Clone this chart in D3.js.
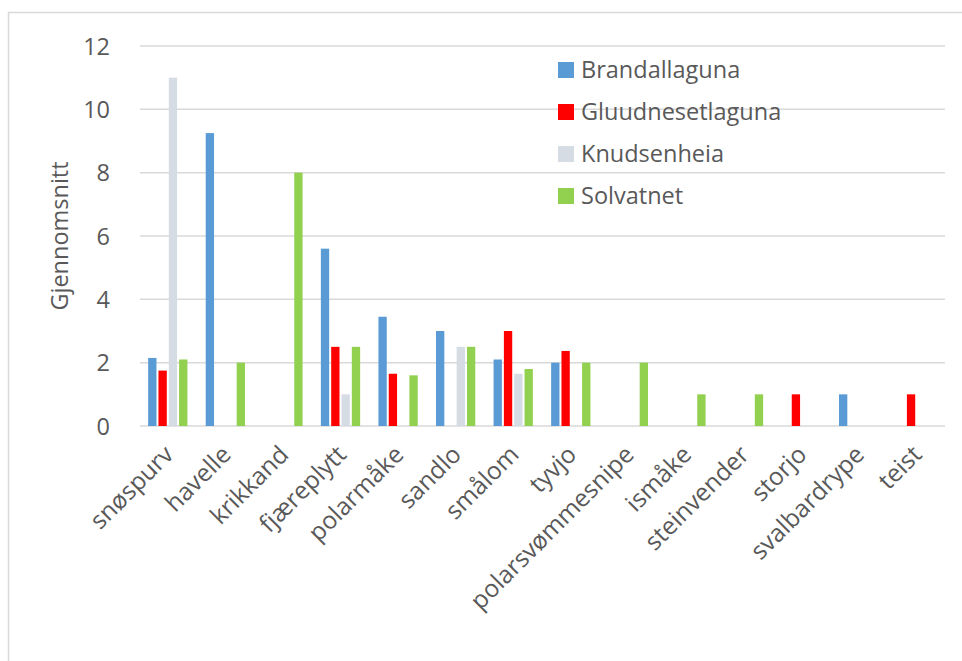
<!DOCTYPE html>
<html>
<head>
<meta charset="utf-8">
<script src="https://cdn.jsdelivr.net/npm/d3@7"></script>
<style>
  html, body { margin: 0; padding: 0; background: #fff; }
  svg text { font-family: "Open Sans", sans-serif; fill: #595959; }
</style>
</head>
<body>
<svg id="chart" width="962" height="661"></svg>
<script>
// Bird species (categories)
const species = ["snøspurv", "havelle", "krikkand", "fjæreplytt", "polarmåke", "sandlo",
  "smålom", "tyvjo", "polarsvømmesnipe", "ismåke", "steinvender", "storjo", "svalbardrype", "teist"];
// Sites (series)
const sites = ["Brandallaguna", "Gluudnesetlaguna", "Knudsenheia", "Solvatnet"];
// Mean counts per site, one entry per species (null = no bar)
const brandallaguna    = [2.15, 9.25, null, 5.6, 3.45, 3.0, 2.1, 2.0, null, null, null, null, 1.0, null];
const gluudnesetlaguna = [1.75, null, null, 2.5, 1.65, null, 3.0, 2.37, null, null, null, 1.0, null, 1.0];
const knudsenheia      = [11.0, null, null, 1.0, null, 2.5, 1.65, null, null, null, null, null, null, null];
const solvatnet        = [2.1, 2.0, 8.0, 2.5, 1.6, 2.5, 1.8, 2.0, 2.0, 1.0, 1.0, null, null, null];
const yTicks = [0, 2, 4, 6, 8, 10, 12];
const yTitle = "Gjennomsnitt";

const seriesValues = [brandallaguna, gluudnesetlaguna, knudsenheia, solvatnet];
const colors = ["#5B9BD5", "#FF0000", "#D6DCE4", "#92D050"];
const fontSize = 23.5;
const xLabelSize = 24.5;

const svg = d3.select("#chart");

// outer chart border
svg.append("rect")
  .attr("x", 8.5).attr("y", 12.5).attr("width", 1000).attr("height", 700)
  .attr("fill", "none").attr("stroke", "#D9D9D9").attr("stroke-width", 1.5);

const plot = { left: 139, right: 945, top: 46, bottom: 426 };

const x0 = d3.scaleBand().domain(species).range([plot.left, plot.right])
  .paddingInner(0.283).paddingOuter(0.1415);
const x1 = d3.scaleBand().domain(sites).range([0, x0.bandwidth()]);
const y = d3.scaleLinear().domain([0, 12]).range([plot.bottom, plot.top]);

// horizontal gridlines
svg.append("g")
  .selectAll("line").data(yTicks).join("line")
  .attr("x1", 140).attr("x2", 945)
  .attr("y1", d => y(d)).attr("y2", d => y(d))
  .attr("stroke", "#D9D9D9").attr("stroke-width", 1.5);

// y axis labels
const yAxis = d3.axisLeft(y).tickValues(yTicks).tickSize(0).tickPadding(0);
const yg = svg.append("g").attr("transform", "translate(110,0)").call(yAxis);
yg.select(".domain").remove();
yg.selectAll("text").attr("font-size", fontSize).attr("font-family", "Open Sans")
  .attr("fill", "#595959").attr("dy", "0.35em");

// y title
svg.append("text")
  .attr("transform", `translate(60,${(plot.top + plot.bottom) / 2}) rotate(-90)`)
  .attr("text-anchor", "middle").attr("dy", "0.35em").attr("font-size", fontSize)
  .text(yTitle);

// bars
const groups = svg.append("g").selectAll("g").data(species).join("g")
  .attr("transform", d => `translate(${x0(d)},0)`);
groups.selectAll("rect")
  .data((d, i) => sites.map((s, k) => ({ site: s, k, v: seriesValues[k][i] })).filter(e => e.v != null))
  .join("rect")
  .attr("x", e => x1(e.site) + 1)
  .attr("width", x1.bandwidth() - 2)
  .attr("y", e => y(e.v))
  .attr("height", e => y(0) - y(e.v))
  .attr("fill", e => colors[e.k]);

// x axis labels (rotated)
const xAxis = d3.axisBottom(x0).tickSize(0).tickPadding(0);
const xg = svg.append("g").attr("transform", `translate(0,${plot.bottom})`).call(xAxis);
xg.select(".domain").remove();
xg.selectAll("text")
  .attr("font-size", xLabelSize).attr("font-family", "Open Sans").attr("fill", "#595959")
  .attr("text-anchor", "end")
  .attr("transform", "translate(1,24) rotate(-45)")
  .attr("dy", "0.35em").attr("y", 0);

// legend
const legend = svg.append("g").selectAll("g").data(sites).join("g")
  .attr("transform", (d, i) => `translate(558,${70 + i * 42})`);
legend.append("rect").attr("x", 0).attr("y", -8).attr("width", 16).attr("height", 16)
  .attr("fill", (d, i) => colors[i]);
legend.append("text").attr("x", 23).attr("dy", "0.35em").attr("font-size", fontSize).text(d => d);
</script>
</body>
</html>
